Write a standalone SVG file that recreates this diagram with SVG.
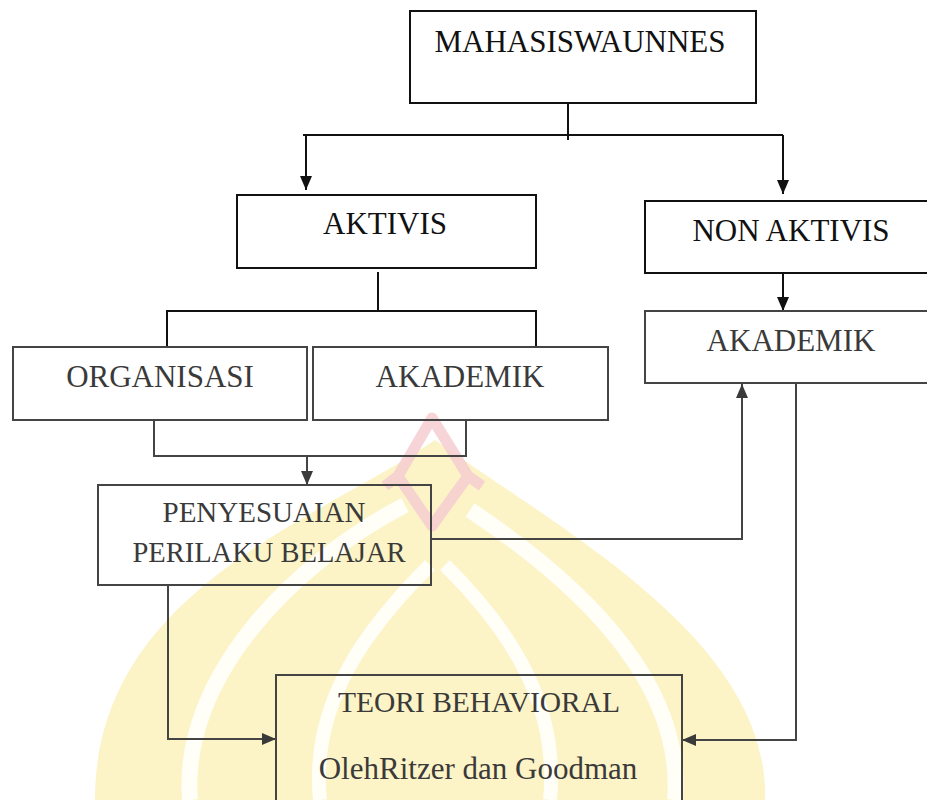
<svg xmlns="http://www.w3.org/2000/svg" width="927" height="800" viewBox="0 0 927 800">
<style>
.box{fill:none;stroke:#111;stroke-width:2}
.box2{fill:none;stroke:#444;stroke-width:2}
.t{font-family:"Liberation Serif","Times New Roman",serif;font-size:31px;fill:#111;text-anchor:middle}
.t2{font-family:"Liberation Serif","Times New Roman",serif;font-size:31px;fill:#3a3a3a;text-anchor:middle}
.ln{fill:none;stroke:#111;stroke-width:2}
.ln2{fill:none;stroke:#444;stroke-width:2}
.gap{fill:none;stroke:#fff;opacity:0.85}
</style>
<defs>
<marker id="ah" viewBox="0 0 14 12" refX="14" refY="6" markerWidth="14" markerHeight="12" markerUnits="userSpaceOnUse" orient="auto">
<path d="M0,0 L14,6 L0,12 Z" fill="#111"/>
</marker>
<marker id="ah2" viewBox="0 0 14 12" refX="14" refY="6" markerWidth="14" markerHeight="12" markerUnits="userSpaceOnUse" orient="auto">
<path d="M0,0 L14,6 L0,12 Z" fill="#3a3a3a"/>
</marker>
</defs>
<rect width="927" height="800" fill="#fff"/>
<g id="watermark">
<path d="M435,440 C320,520 95,590 95,800 L765,800 C770,640 560,530 435,440 Z" fill="#fcf3c6"/>
<path class="gap" d="M190,800 C180,680 290,565 405,505" stroke-width="16"/>
<path class="gap" d="M675,800 C685,680 575,580 470,510" stroke-width="16"/>
<path class="gap" d="M320,800 C310,700 370,625 430,565" stroke-width="14"/>
<path class="gap" d="M550,800 C560,700 505,625 445,565" stroke-width="14"/>
<path d="M432,418 L398,476 L432,526 L468,476 Z M398,476 L385,486 M468,476 L482,486" fill="none" stroke="#f6ccd1" stroke-width="11" stroke-linejoin="round" opacity="0.85"/>
</g>
<g id="connectors">
<line class="ln" x1="568" y1="103" x2="568" y2="140"/>
<line class="ln" x1="303" y1="135" x2="783" y2="135"/>
<line class="ln" x1="306" y1="135" x2="306" y2="190" marker-end="url(#ah)"/>
<line class="ln" x1="783" y1="135" x2="783" y2="194" marker-end="url(#ah)"/>
<line class="ln" x1="378" y1="272" x2="378" y2="311"/>
<polyline class="ln" points="167,347 167,311 536,311 536,347"/>
<line class="ln" x1="783" y1="273" x2="783" y2="311" marker-end="url(#ah)"/>
<polyline class="ln2" points="154,420 154,456 466,456 466,420"/>
<line class="ln2" x1="307" y1="456" x2="307" y2="485" marker-end="url(#ah2)"/>
<polyline class="ln2" points="431,539 742,539 742,384" marker-end="url(#ah2)"/>
<polyline class="ln2" points="796,383 796,740 682,740" marker-end="url(#ah2)"/>
<polyline class="ln2" points="168,585 168,739 276,739" marker-end="url(#ah2)"/>
</g>
<g id="n-mahasiswa">
<rect class="box" x="410" y="11" width="346" height="92"/>
<text class="t" x="580" y="52">MAHASISWAUNNES</text>
</g>
<g id="n-aktivis">
<rect class="box" x="237" y="195" width="299" height="73"/>
<text class="t" x="385" y="234">AKTIVIS</text>
</g>
<g id="n-nonaktivis">
<rect class="box" x="645" y="201" width="300" height="72"/>
<text class="t" x="791" y="241">NON AKTIVIS</text>
</g>
<g id="n-akademik-right">
<rect class="box2" x="645" y="311" width="300" height="72"/>
<text class="t2" x="791" y="351">AKADEMIK</text>
</g>
<g id="n-organisasi">
<rect class="box2" x="13" y="347" width="294" height="73"/>
<text class="t2" x="160" y="387">ORGANISASI</text>
</g>
<g id="n-akademik-left">
<rect class="box2" x="313" y="347" width="295" height="73"/>
<text class="t2" x="460" y="387">AKADEMIK</text>
</g>
<g id="n-penyesuaian">
<rect class="box2" x="98" y="485" width="333" height="100"/>
<text class="t2" x="264" y="522" style="font-size:29px">PENYESUAIAN</text>
<text class="t2" x="269" y="562" style="font-size:28.5px">PERILAKU BELAJAR</text>
</g>
<g id="n-teori">
<rect class="box2" x="276" y="675" width="406" height="140"/>
<text class="t2" x="479" y="712" style="font-size:29.5px">TEORI BEHAVIORAL</text>
<text class="t2" x="478" y="779">OlehRitzer dan Goodman</text>
</g>
</svg>
